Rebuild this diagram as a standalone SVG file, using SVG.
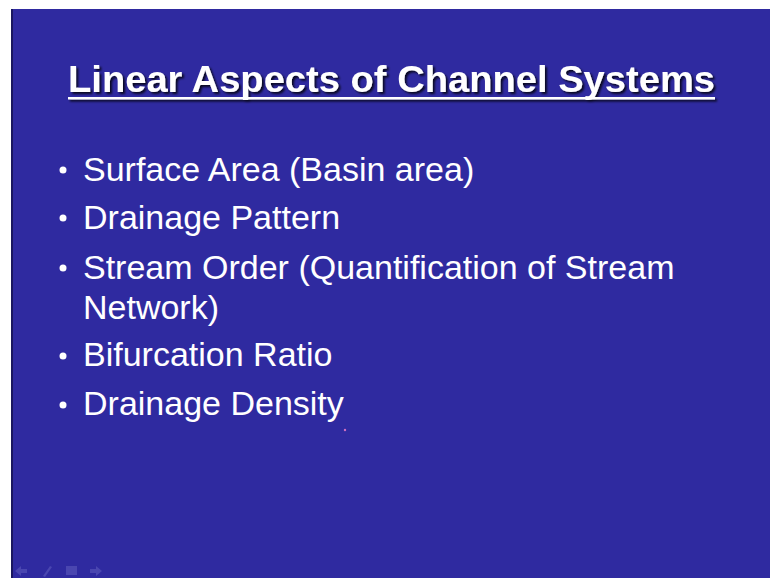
<svg xmlns="http://www.w3.org/2000/svg" width="770" height="578" viewBox="0 0 770 578">
<defs>
<style>
.t{font-family:"Liberation Sans",Arial,sans-serif;fill:#ffffff}
.b{font-size:34px}
</style>
<filter id="sh" x="-5%" y="-20%" width="110%" height="150%">
<feDropShadow dx="2" dy="2" stdDeviation="0.8" flood-color="#000000" flood-opacity="0.8"/>
</filter>
</defs>
<rect x="0" y="0" width="770" height="578" fill="#ffffff"/>
<rect x="11" y="9" width="759" height="569" fill="#2f2aa0"/>
<rect x="11" y="9" width="2" height="569" fill="#1a1760"/>
<g id="title" filter="url(#sh)">
<text class="t" x="68" y="92" font-size="36" font-weight="bold" textLength="647" lengthAdjust="spacingAndGlyphs">Linear Aspects of Channel Systems</text>
<rect x="68" y="97" width="647" height="2.5" fill="#ffffff"/>
</g>
<g id="bullets" class="t b">
<circle cx="63" cy="170" r="3.5" fill="#fff"/>
<text class="t b" x="83" y="181">Surface Area (Basin area)</text>
<circle cx="63" cy="218" r="3.5" fill="#fff"/>
<text class="t b" x="83" y="229">Drainage Pattern</text>
<circle cx="63" cy="268" r="3.5" fill="#fff"/>
<text class="t b" x="83" y="279">Stream Order (Quantification of Stream</text>
<text class="t b" x="83" y="319">Network)</text>
<circle cx="63" cy="356" r="3.5" fill="#fff"/>
<text class="t b" x="83" y="366">Bifurcation Ratio</text>
<circle cx="63" cy="405" r="3.5" fill="#fff"/>
<text class="t b" x="83" y="415">Drainage Density</text>
</g>
<circle cx="345" cy="430" r="1.2" fill="#d070c0"/>
<g id="nav" fill="#4a46b0">
<path d="M15 571 L21 566 L21 569 L27 569 L27 573 L21 573 L21 576 Z"/>
<path d="M43 576 L50 566 L52 567 L45 577 Z"/>
<rect x="66" y="566" width="11" height="9"/>
<path d="M102 571 L96 566 L96 569 L90 569 L90 573 L96 573 L96 576 Z"/>
</g>
</svg>
